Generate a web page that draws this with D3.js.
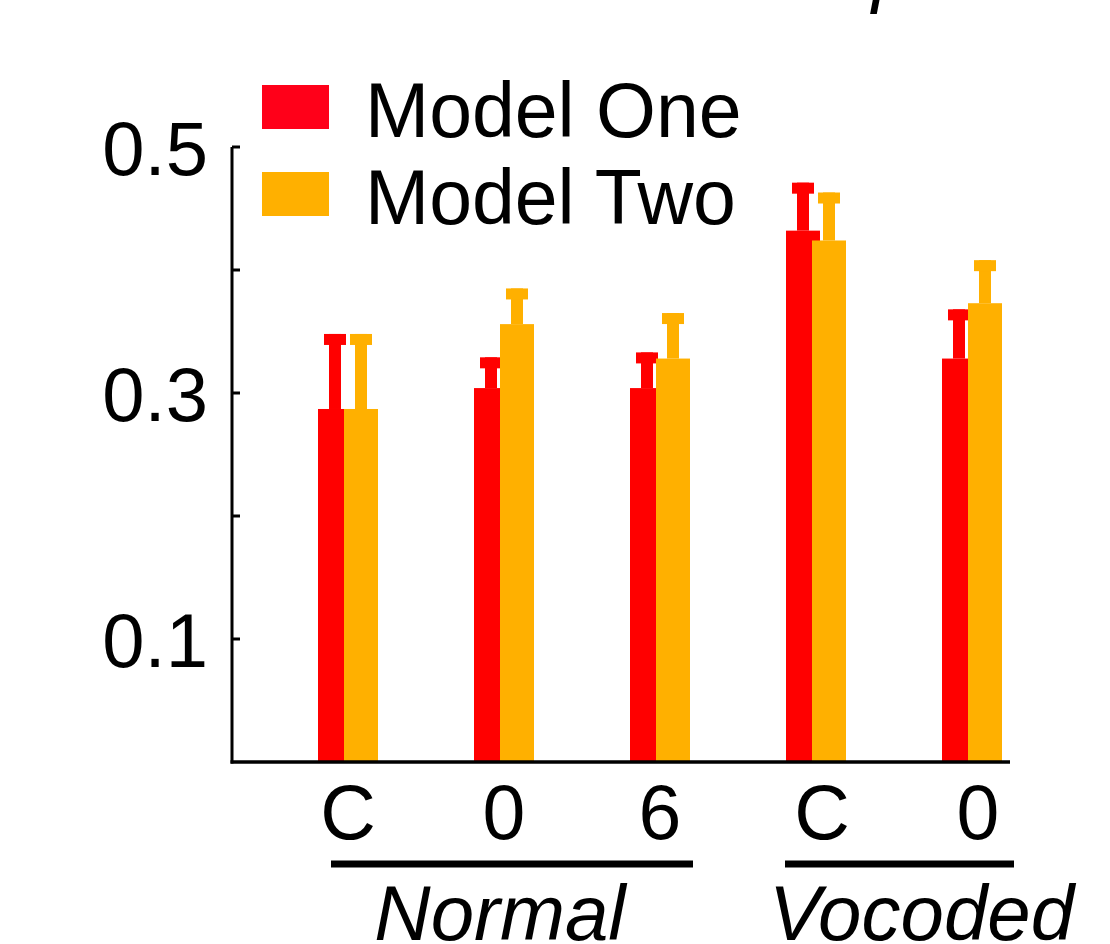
<!DOCTYPE html>
<html>
<head>
<meta charset="utf-8">
<script src="https://cdn.jsdelivr.net/npm/d3@7"></script>
<style>
  html, body { margin: 0; padding: 0; background: #fff; }
  svg text { font-family: 'Liberation Sans', Arial, Helvetica, sans-serif; fill: #000; }
</style>
</head>
<body>
<div id="chart"></div>
<script>
// Conditions along the x axis and their grouping
const conditions = ['C', '0', '6', 'C', '0']
const groups = [
  { name: 'Normal', from: 0, to: 2 },
  { name: 'Vocoded', from: 3, to: 4 }
]
const seriesNames = ['Model One', 'Model Two']
// Bar heights and upper end of the error bars
const modelOne = [0.287, 0.304, 0.304, 0.432, 0.328]
const modelOneErr = [0.348, 0.329, 0.333, 0.471, 0.368]
const modelTwo = [0.287, 0.356, 0.328, 0.424, 0.373]
const modelTwoErr = [0.348, 0.385, 0.365, 0.463, 0.408]
const yTicks = [0.1, 0.2, 0.3, 0.4, 0.5]
const yTickLabels = ['0.1', '', '0.3', '', '0.5']

const width = 1110
const height = 944
const barColors = ['#ff0000', '#ffb000']
const legendColors = ['#ff0019', '#ffb000']

const svg = d3.select('#chart').append('svg')
  .attr('width', width)
  .attr('height', height)

// Scales
const y = d3.scaleLinear().domain([0, 0.5]).range([762, 147])
const x = d3.scaleLinear().domain([0, conditions.length - 1]).range([348, 972])
const barW = 34
const offset = 26 // shift between the two series, they overlap a little

const series = [
  { values: modelOne, err: modelOneErr, color: barColors[0], dx: -offset / 2 },
  { values: modelTwo, err: modelTwoErr, color: barColors[1], dx: offset / 2 }
]

// Bars with error bars, first series under the second
series.forEach(s => {
  const g = svg.append('g')
  g.selectAll('rect.stem')
    .data(s.values)
    .enter().append('rect')
    .attr('class', 'stem')
    .attr('x', (d, i) => x(i) + s.dx - 6)
    .attr('width', 12)
    .attr('y', (d, i) => y(s.err[i]))
    .attr('height', (d, i) => y(d) - y(s.err[i]))
    .attr('fill', s.color)
  g.selectAll('rect.cap')
    .data(s.err)
    .enter().append('rect')
    .attr('class', 'cap')
    .attr('x', (d, i) => x(i) + s.dx - 11)
    .attr('width', 22)
    .attr('y', d => y(d))
    .attr('height', 11)
    .attr('fill', s.color)
  g.selectAll('rect.bar')
    .data(s.values)
    .enter().append('rect')
    .attr('class', 'bar')
    .attr('x', (d, i) => x(i) + s.dx - barW / 2)
    .attr('width', barW)
    .attr('y', d => y(d))
    .attr('height', d => y(0) - y(d))
    .attr('fill', s.color)
})

// Y axis: line, inward ticks, labels
svg.append('line')
  .attr('x1', 232).attr('x2', 232)
  .attr('y1', y(0.5)).attr('y2', y(0) + 1.5)
  .attr('stroke', '#000').attr('stroke-width', 3)
svg.selectAll('line.ytick')
  .data(yTicks)
  .enter().append('line')
  .attr('class', 'ytick')
  .attr('x1', 232).attr('x2', 240)
  .attr('y1', d => y(d)).attr('y2', d => y(d))
  .attr('stroke', '#000').attr('stroke-width', 3)
svg.selectAll('text.ylab')
  .data(yTicks)
  .enter().append('text')
  .attr('class', 'ylab')
  .attr('x', 208)
  .attr('y', d => y(d) + 28)
  .attr('text-anchor', 'end')
  .attr('font-size', 76)
  .text((d, i) => yTickLabels[i])

// X baseline
svg.append('line')
  .attr('x1', 230.5).attr('x2', 1010)
  .attr('y1', y(0)).attr('y2', y(0))
  .attr('stroke', '#000').attr('stroke-width', 3.5)

// Condition labels
svg.selectAll('text.xlab')
  .data(conditions)
  .enter().append('text')
  .attr('class', 'xlab')
  .attr('x', (d, i) => x(i) + (i >= 3 ? 6 : 0))
  .attr('y', 839)
  .attr('text-anchor', 'middle')
  .attr('font-size', 77)
  .text(d => d)

// Group underlines and names
const groupLine = [[331, 693], [785, 1014]]
svg.selectAll('line.group')
  .data(groups)
  .enter().append('line')
  .attr('class', 'group')
  .attr('x1', (d, i) => groupLine[i][0])
  .attr('x2', (d, i) => groupLine[i][1])
  .attr('y1', 864).attr('y2', 864)
  .attr('stroke', '#000').attr('stroke-width', 7)
svg.selectAll('text.group')
  .data(groups)
  .enter().append('text')
  .attr('class', 'group')
  .attr('x', (d, i) => (groupLine[i][0] + groupLine[i][1]) / 2 + (i === 0 ? -12 : 22))
  .attr('y', 940)
  .attr('text-anchor', 'middle')
  .attr('font-size', 78)
  .attr('font-style', 'italic')
  .text(d => d.name)

// Legend
const legend = svg.selectAll('g.legend')
  .data(seriesNames)
  .enter().append('g')
  .attr('class', 'legend')
  .attr('transform', (d, i) => `translate(262,${85 + i * 87})`)
legend.append('rect')
  .attr('width', 67).attr('height', 44)
  .attr('fill', (d, i) => legendColors[i])
legend.append('text')
  .attr('x', 103)
  .attr('y', 52)
  .attr('font-size', 77)
  .text(d => d)

// Descender of the cut-off title at the top edge
svg.append('text')
  .attr('x', 872)
  .attr('y', -2)
  .attr('font-size', 77)
  .attr('font-style', 'italic')
  .text('p')
</script>
</body>
</html>
